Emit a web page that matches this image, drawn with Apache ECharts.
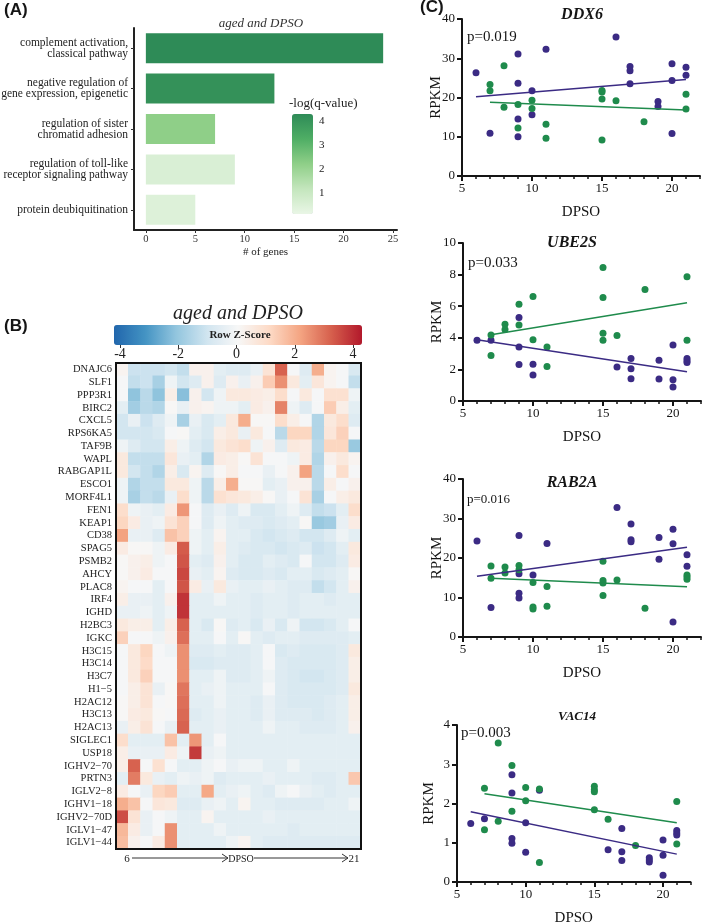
<!DOCTYPE html>
<html>
<head>
<meta charset="utf-8">
<script src="https://cdn.jsdelivr.net/npm/echarts@6/dist/echarts.min.js"></script>
<style>
html, body { margin: 0; padding: 0; background: #fff; }
#chart { width: 702px; height: 922px; }
</style>
</head>
<body>
<div id="chart"></div>
<script>
// ---- panel A: GO terms ----
const goTerms = [
    'complement activation,\nclassical pathway',
    'negative regulation of\ngene expression, epigenetic',
    'regulation of sister\nchromatid adhesion',
    'regulation of toll-like\nreceptor signaling pathway',
    'protein deubiquitination'
];
const goGenes = [24, 13, 7, 9, 5];
const goLogQ = [4.28, 4.1, 2.2, 0.55, 0.45];
const goTicks = [0, 5, 10, 15, 20, 25];
const qTicks = [1, 2, 3, 4];

// ---- panel B: heatmap (row z-scores, samples ordered by DPSO 6 -> 21) ----
const heatGenes = ['DNAJC6','SLF1','PPP3R1','BIRC2','CXCL5','RPS6KA5','TAF9B','WAPL','RABGAP1L','ESCO1',
    'MORF4L1','FEN1','KEAP1','CD38','SPAG5','PSMB2','AHCY','PLAC8','IRF4','IGHD','H2BC3','IGKC',
    'H3C15','H3C14','H3C7','H1\u22125','H2AC12','H3C13','H2AC13','SIGLEC1','USP18','IGHV2\u221270',
    'PRTN3','IGLV2\u22128','IGHV1\u221218','IGHV2\u221270D','IGLV1\u221247','IGLV1\u221244'];
const heatRows = [
    [0.2,-1.1,-1.1,-1.1,-0.95,-1.25,0.3,0.3,-0.5,-0.65,-0.65,-0.35,0.8,3.2,0.0,-0.65,2.0,0.2,0.0,-0.8],
    [0.0,-1.25,-1.1,-1.7,-0.2,-0.95,-0.65,0.3,-0.65,0.3,-0.35,0.3,1.4,2.5,0.6,-0.5,0.7,0.2,0.0,-1.25],
    [0.0,-2.1,-1.4,-2.1,0.4,-2.2,0.3,-0.95,-0.2,0.6,0.6,0.5,0.4,1.0,0.0,0.6,0.0,0.9,0.9,-0.2],
    [-0.5,-1.8,-1.4,-1.55,0.1,-0.35,0.3,0.2,-0.2,-0.2,-0.5,0.5,0.3,2.7,-0.2,-0.65,0.0,1.4,0.4,-0.5],
    [-0.95,-0.35,-1.1,-0.65,-0.2,-1.7,-0.35,-0.8,-0.5,0.6,2.0,0.1,0.1,1.0,0.4,0.0,-1.55,0.6,1.0,-0.65],
    [-0.95,-0.95,-0.95,-0.8,0.0,0.1,-0.5,-0.8,0.4,0.6,-0.35,0.6,0.0,-1.4,1.2,1.2,-1.55,0.7,1.3,0.0],
    [-0.2,-0.65,-0.95,-0.95,0.4,-0.2,-0.65,-0.95,0.6,0.8,1.0,-0.2,0.3,-0.65,0.6,0.5,-1.4,1.2,1.2,-1.95],
    [0.6,-1.25,-1.25,-1.25,0.7,-0.35,-0.5,-1.55,0.5,0.4,0.1,0.8,0.0,0.0,-0.2,0.5,-1.55,0.3,0.6,0.2],
    [0.6,-0.95,-1.25,-1.55,0.4,-0.8,0.2,-0.65,0.1,0.4,0.0,0.0,-0.35,0.0,0.3,2.2,-1.4,0.0,1.0,0.0],
    [-0.2,-1.55,-1.25,-1.25,0.6,0.6,-0.2,-1.4,0.4,2.0,0.1,0.1,-0.5,-0.35,0.3,0.3,-1.4,0.4,0.0,0.3],
    [-0.2,-1.7,-1.25,-1.4,-0.35,1.0,-0.2,-1.4,0.9,0.7,0.6,0.4,0.1,-0.35,0.0,0.8,-1.7,0.0,0.4,0.6],
    [1.0,-0.2,-0.35,-0.5,0.5,2.4,0.0,-0.65,-0.35,-0.65,-0.2,-0.8,-0.8,-0.5,-0.2,-0.65,-1.25,-1.1,-0.5,1.0],
    [1.2,0.5,-0.35,-0.2,0.8,1.3,0.0,-0.65,-0.2,-0.5,-0.65,-0.65,-0.8,-0.65,-0.5,0.1,-1.95,-1.8,-0.35,0.5],
    [2.2,-0.35,-0.35,-0.65,1.6,1.3,-0.2,-0.5,0.2,-0.5,-0.5,-0.8,-0.95,-0.8,-0.65,-0.95,-0.95,-0.65,-0.2,-0.5],
    [0.5,0.1,0.1,-0.2,0.5,3.3,-0.2,-0.5,0.4,-0.5,-0.65,-0.8,-0.8,-0.95,-0.8,-0.65,-1.1,-0.95,-0.5,0.6],
    [0.1,0.3,0.4,-0.2,0.0,3.4,-0.5,-0.65,0.3,-0.5,-0.8,-0.8,-0.5,-0.65,-0.8,0.0,-0.95,-0.95,-0.65,0.5],
    [0.1,0.3,0.5,0.0,0.0,3.6,-0.35,-0.5,0.2,-0.65,-0.8,-0.8,-0.65,-0.8,-0.5,-0.5,-0.8,-0.65,-0.5,0.1],
    [0.2,0.0,0.0,-0.5,0.0,3.4,0.5,-0.35,0.6,-0.35,-0.5,-0.5,-0.35,-0.5,-0.65,-0.65,-1.25,-0.95,-0.5,0.3],
    [0.4,-0.35,-0.35,-0.5,0.3,3.9,-0.5,-0.5,-0.2,-0.5,-0.5,-0.65,-0.5,-0.5,-0.65,-0.5,-0.5,-0.65,-0.5,-0.5],
    [-0.35,-0.35,-0.2,-0.5,-0.2,3.9,-0.5,-0.5,-0.5,-0.5,-0.5,-0.65,-0.5,-0.5,-0.65,-0.5,-0.5,-0.5,-0.5,-0.5],
    [0.6,0.4,0.4,-0.5,0.4,3.2,-0.5,-0.8,0.1,-0.65,-0.5,-0.8,-0.35,-0.8,-0.2,-0.95,-0.95,-0.8,-0.5,0.0],
    [1.3,0.0,0.0,-0.2,0.3,3.0,-0.5,-0.5,0.0,-0.5,0.1,-0.5,-0.65,-0.5,-0.5,-0.65,-0.65,-0.65,-0.65,-0.5],
    [0.0,0.6,1.2,0.0,-0.2,2.5,-0.65,-0.65,-0.5,-0.65,-0.65,-0.5,0.0,-0.8,-0.65,-0.8,-0.8,-0.8,-0.65,0.6],
    [0.0,0.6,1.1,0.0,0.0,2.5,-0.8,-0.8,-0.65,-0.65,-0.65,-0.5,0.0,-0.65,-0.8,-0.8,-0.8,-0.8,-0.65,0.4],
    [0.0,0.6,1.3,0.0,0.0,2.5,-0.5,-0.5,-0.2,-0.65,-0.65,-0.5,-0.2,-0.65,-0.8,-0.95,-0.95,-0.8,-0.65,0.4],
    [0.0,0.4,0.8,-0.35,0.1,2.9,-0.5,-0.35,-0.2,-0.5,-0.5,-0.5,0.0,-0.65,-0.8,-0.8,-0.8,-0.8,-0.65,0.6],
    [0.1,0.4,0.8,0.0,0.1,3.0,-0.5,-0.5,-0.2,-0.5,-0.5,-0.65,-0.35,-0.65,-0.8,-0.8,-0.8,-0.65,-0.5,0.4],
    [0.1,0.5,0.6,0.1,0.0,3.1,-0.65,-0.5,-0.35,-0.5,-0.5,-0.65,-0.35,-0.65,-0.65,-0.65,-0.8,-0.65,-0.5,0.4],
    [-0.35,0.4,0.8,0.0,-0.35,3.2,-0.5,-0.5,-0.35,-0.5,-0.5,-0.5,-0.2,-0.5,-0.5,-0.65,-0.65,-0.65,-0.5,0.3],
    [1.0,-0.5,-0.5,-0.5,1.6,-0.5,2.4,-0.5,0.0,-0.5,-0.5,-0.5,-0.5,-0.5,-0.5,-0.5,-0.5,-0.5,-0.5,-0.5],
    [0.4,-0.35,-0.35,-0.35,0.5,-0.2,3.8,-0.35,-0.2,-0.5,-0.5,-0.5,-0.5,-0.5,-0.5,-0.5,-0.5,-0.5,-0.5,-0.5],
    [0.4,3.2,0.0,0.9,0.0,-0.5,-0.5,-0.2,0.0,-0.35,-0.2,-0.2,-0.5,-0.5,-0.2,-0.5,-0.5,-0.5,-0.5,-0.5],
    [-0.5,2.8,0.6,-0.35,-0.5,-0.2,-0.35,-0.2,-0.65,-0.5,-0.5,-0.5,-0.35,-0.5,-0.5,-0.5,-0.65,-0.65,-0.5,1.5],
    [0.5,0.0,-0.35,1.2,1.4,-0.5,-0.5,2.1,-0.5,-0.35,-0.2,-0.5,-0.65,-0.2,0.0,-0.35,-0.5,-0.65,-0.5,-0.5],
    [2.0,1.6,0.0,0.7,0.6,-0.65,-0.65,-0.35,-0.2,-0.5,0.2,-0.5,-0.5,-0.65,-0.65,-0.65,-0.65,-0.5,-0.5,-0.2],
    [3.5,0.8,-0.35,0.0,-0.2,-0.5,-0.5,0.2,-0.5,-0.5,-0.5,-0.5,-0.35,-0.5,-0.5,-0.5,-0.5,-0.5,-0.5,-0.5],
    [1.8,0.5,-0.35,0.0,2.5,-0.5,-0.5,-0.5,-0.2,-0.5,-0.5,-0.5,-0.5,-0.5,-0.65,-0.5,-0.5,-0.5,-0.5,-0.5],
    [1.7,0.3,0.0,0.5,2.5,-0.5,-0.5,-0.5,-0.5,-0.2,0.2,-0.5,-0.65,-0.65,-0.65,-0.65,-0.65,-0.65,-0.65,-0.65]
];

// ---- panel C: RPKM vs DPSO, two groups (purple / green) with fitted lines ----
const ddx6Purple = [[6,26.3],[7,10.9],[9,31.1],[9,23.6],[9,14.5],[9,10.0],[10,21.7],[10,15.6],[11,32.3],
    [16,35.4],[17,27.9],[17,26.8],[17,23.5],[19,19.0],[19,17.7],[20,28.6],[20,24.3],[20,10.8],[21,27.7],[21,25.7]];
const ddx6Green = [[7,23.3],[7,21.7],[8,28.1],[8,17.5],[9,18.2],[9,12.2],[10,19.3],[10,17.2],[11,13.2],[11,9.6],
    [15,21.8],[15,21.4],[15,19.6],[15,9.2],[16,19.2],[18,13.8],[21,20.8],[21,17.1]];
const ddx6PurpleFit = [[6,20.2],[21,24.6]];
const ddx6GreenFit = [[7,18.8],[21,16.8]];

const ube2sPurple = [[6,3.84],[7,3.84],[9,5.29],[9,3.42],[9,2.31],[10,2.33],[10,1.64],[16,2.15],[17,2.69],
    [17,2.04],[17,1.41],[19,2.58],[19,1.39],[20,3.55],[20,1.34],[20,0.88],[21,2.69],[21,2.54],[21,2.44]];
const ube2sGreen = [[7,4.18],[7,2.88],[8,4.85],[8,4.52],[9,6.13],[9,4.81],[10,6.62],[10,3.87],[11,3.42],[11,2.18],
    [15,8.45],[15,6.55],[15,4.29],[15,3.84],[16,4.14],[18,7.06],[21,7.86],[21,3.84]];
const ube2sPurpleFit = [[6,3.87],[21,1.85]];
const ube2sGreenFit = [[7,4.2],[21,6.22]];

const rab2aPurple = [[6,24.3],[7,7.5],[9,25.7],[9,16.0],[9,11.1],[9,9.9],[10,15.7],[11,23.7],[16,32.8],[17,28.6],
    [17,24.6],[17,24.1],[19,25.2],[19,19.7],[20,27.3],[20,23.6],[20,3.8],[21,20.8],[21,17.9]];
const rab2aGreen = [[7,18.0],[7,14.9],[8,17.7],[8,16.2],[9,18.1],[9,17.0],[10,13.8],[10,7.6],[10,7.1],[11,12.8],
    [11,7.8],[15,19.2],[15,14.3],[15,13.7],[15,10.5],[16,14.4],[18,7.3],[21,15.7],[21,15.2],[21,14.6]];
const rab2aPurpleFit = [[6,15.4],[21,22.7]];
const rab2aGreenFit = [[7,14.9],[21,12.7]];

const vac14Purple = [[6,1.49],[7,1.61],[9,2.73],[9,2.27],[9,1.11],[9,0.99],[10,1.51],[10,0.76],[11,2.34],[16,0.82],
    [17,1.36],[17,0.77],[17,0.55],[19,0.62],[19,0.56],[19,0.51],[20,1.07],[20,0.68],[20,0.17],[21,1.31],[21,1.25],[21,1.20]];
const vac14Green = [[7,2.39],[7,1.33],[8,3.54],[8,1.55],[9,2.97],[9,1.80],[10,2.41],[10,2.07],[11,2.37],[11,0.50],
    [15,2.44],[15,2.35],[15,2.30],[15,1.84],[16,1.60],[18,0.93],[21,2.05],[21,0.97]];
const vac14PurpleFit = [[6,1.79],[21,0.71]];
const vac14GreenFit = [[7,2.25],[21,1.51]];

const dpsoMajor = [5, 10, 15, 20];
const dpsoMinor = [6, 7, 8, 9, 11, 12, 13, 14, 16, 17, 18, 19, 21, 22];

const SERIF = '"Liberation Serif", "Times New Roman", serif';
const SANS = '"Liberation Sans", Arial, sans-serif';
const PURPLE = '#3b2b84';
const GREEN = '#1f8b4c';
const INK = '#151515';

let chart = echarts.init(document.getElementById('chart'));

let grids = [
    {left: 134, top: 28, width: 263, height: 202},   // 0 bars
    {left: 292, top: 114, width: 21, height: 100},   // 1 q colour bar axis
    {left: 120, top: 344, width: 233, height: 1},    // 2 z colour bar axis
    {left: 116, top: 363, width: 245, height: 486}   // 3 heatmap
];
let xAxes = [
    {gridIndex: 0, type: 'value', min: -1.2, max: 25.4,
        axisLine: {show: true, onZero: false, lineStyle: {color: '#222', width: 2}},
        axisTick: {show: true, customValues: goTicks, length: 3, lineStyle: {color: '#333'}},
        axisLabel: {customValues: goTicks, fontFamily: SERIF, fontSize: 10.5, color: '#333', margin: 4},
        splitLine: {show: false},
        name: '# of genes', nameLocation: 'middle', nameGap: 17, nameMoveOverlap: false,
        nameTextStyle: {fontFamily: SERIF, fontSize: 11, color: '#222'}},
    {gridIndex: 1, type: 'value', show: false},
    {gridIndex: 2, type: 'value', min: -4, max: 4, interval: 2,
        axisLine: {show: false},
        axisTick: {show: true, length: 3, lineStyle: {color: '#333'}},
        axisLabel: {fontFamily: SERIF, fontSize: 14, color: '#222', margin: 2},
        splitLine: {show: false}},
    {gridIndex: 3, type: 'category', data: heatRows[0].map((v, i) => 'S' + (i + 1)), show: false}
];
let yAxes = [
    {gridIndex: 0, type: 'category', data: goTerms, inverse: true,
        axisLine: {show: true, onZero: false, lineStyle: {color: '#222', width: 2}},
        axisTick: {show: true, alignWithLabel: true, length: 3, lineStyle: {color: '#333'}},
        axisLabel: {fontFamily: SERIF, fontSize: 11.5, lineHeight: 11, color: '#222', margin: 6}},
    {gridIndex: 1, type: 'value', min: 0.11, max: 4.28, position: 'right', z: 10,
        axisLine: {show: false},
        axisTick: {show: true, inside: true, length: 4, customValues: qTicks, lineStyle: {color: '#fff', width: 1.5}},
        axisLabel: {customValues: qTicks, fontFamily: SERIF, fontSize: 11, color: '#222', margin: 6},
        splitLine: {show: false}},
    {gridIndex: 2, type: 'value', show: false},
    {gridIndex: 3, type: 'category', data: heatGenes, inverse: true,
        axisLine: {show: false}, axisTick: {show: false},
        axisLabel: {interval: 0, fontFamily: SERIF, fontSize: 10.5, color: '#222', margin: 4}}
];

let series = [
    {type: 'bar', xAxisIndex: 0, yAxisIndex: 0, barWidth: 30,
        data: goGenes.map((g, i) => [g, i, goLogQ[i]])},
    {type: 'heatmap', xAxisIndex: 3, yAxisIndex: 3,
        data: [].concat(...heatRows.map((row, r) => row.map((v, c) => [c, r, v]))),
        emphasis: {disabled: true}}
];

let graphic = [
    {type: 'text', x: 4, y: 10, style: {text: '(A)', font: 'bold 17px ' + SANS, fill: INK, textVerticalAlign: 'middle', verticalAlign: 'middle'}},
    {type: 'text', x: 261, y: 24, style: {text: 'aged and DPSO', font: 'italic 13px ' + SERIF, fill: '#333', textAlign: 'center', align: 'center', textVerticalAlign: 'middle', verticalAlign: 'middle'}},
    {type: 'text', x: 289, y: 104, style: {text: '-log(q-value)', font: '13px ' + SERIF, fill: '#222', textVerticalAlign: 'middle', verticalAlign: 'middle'}},
    {type: 'text', x: 4, y: 326, style: {text: '(B)', font: 'bold 17px ' + SANS, fill: INK, textVerticalAlign: 'middle', verticalAlign: 'middle'}},
    {type: 'text', x: 238, y: 314, style: {text: 'aged and DPSO', font: 'italic 20px ' + SERIF, fill: '#222', textAlign: 'center', align: 'center', textVerticalAlign: 'middle', verticalAlign: 'middle'}},
    {type: 'text', x: 240, y: 335, z: 20, style: {text: 'Row Z-Score', font: 'bold 11px ' + SERIF, fill: '#222', textAlign: 'center', align: 'center', textVerticalAlign: 'middle', verticalAlign: 'middle'}},
    {type: 'rect', z: 20, shape: {x: 116, y: 363, width: 245, height: 486}, style: {fill: 'none', stroke: '#111', lineWidth: 2}},
    {type: 'text', x: 127, y: 859, style: {text: '6', font: '11px ' + SERIF, fill: '#222', textAlign: 'center', align: 'center', textVerticalAlign: 'middle', verticalAlign: 'middle'}},
    {type: 'line', shape: {x1: 132, y1: 858, x2: 228, y2: 858}, style: {stroke: '#333', lineWidth: 1}},
    {type: 'polyline', shape: {points: [[222, 854], [228, 858], [222, 862]]}, style: {stroke: '#333', fill: 'none', lineWidth: 1}},
    {type: 'text', x: 241, y: 859, style: {text: 'DPSO', font: '10px ' + SERIF, fill: '#222', textAlign: 'center', align: 'center', textVerticalAlign: 'middle', verticalAlign: 'middle'}},
    {type: 'line', shape: {x1: 254, y1: 858, x2: 348, y2: 858}, style: {stroke: '#333', lineWidth: 1}},
    {type: 'polyline', shape: {points: [[342, 854], [348, 858], [342, 862]]}, style: {stroke: '#333', fill: 'none', lineWidth: 1}},
    {type: 'text', x: 354, y: 859, style: {text: '21', font: '11px ' + SERIF, fill: '#222', textAlign: 'center', align: 'center', textVerticalAlign: 'middle', verticalAlign: 'middle'}},
    {type: 'text', x: 420, y: 7, style: {text: '(C)', font: 'bold 17px ' + SANS, fill: INK, textVerticalAlign: 'middle', verticalAlign: 'middle'}}
];

// scatter panels
let panels = [
    {gene: 'DDX6', p: 'p=0.019', ymax: 40, yint: 10, purple: ddx6Purple, green: ddx6Green,
        purpleFit: ddx6PurpleFit, greenFit: ddx6GreenFit,
        grid: {left: 462, top: 19, width: 238, height: 157}, rpkmGap: 18,
        titleXY: [582, 15], titleSize: 16, pXY: [467, 37], pSize: 15},
    {gene: 'UBE2S', p: 'p=0.033', ymax: 10, yint: 2, purple: ube2sPurple, green: ube2sGreen,
        purpleFit: ube2sPurpleFit, greenFit: ube2sGreenFit,
        grid: {left: 463, top: 243, width: 238, height: 158}, rpkmGap: 18,
        titleXY: [572, 243], titleSize: 16, pXY: [468, 263], pSize: 15},
    {gene: 'RAB2A', p: 'p=0.016', ymax: 40, yint: 10, purple: rab2aPurple, green: rab2aGreen,
        purpleFit: rab2aPurpleFit, greenFit: rab2aGreenFit,
        grid: {left: 463, top: 479, width: 238, height: 158}, rpkmGap: 18,
        titleXY: [572, 483], titleSize: 16, pXY: [467, 500], pSize: 13},
    {gene: 'VAC14', p: 'p=0.003', ymax: 4, yint: 1, purple: vac14Purple, green: vac14Green,
        purpleFit: vac14PurpleFit, greenFit: vac14GreenFit,
        grid: {left: 457, top: 725, width: 233.5, height: 157}, rpkmGap: 20,
        titleXY: [577, 717], titleSize: 13, pXY: [461, 733], pSize: 15}
];

panels.forEach(function (pn) {
    let g = grids.length;
    grids.push(pn.grid);
    let xi = xAxes.length;
    xAxes.push({gridIndex: g, type: 'value', min: 5, max: 22, position: 'bottom',
        axisLine: {show: true, onZero: false, lineStyle: {color: INK, width: 2}},
        axisTick: {show: true, customValues: dpsoMajor, length: 5, lineStyle: {color: INK, width: 2}},
        axisLabel: {customValues: dpsoMajor, fontFamily: SERIF, fontSize: 13, color: INK, margin: 6},
        splitLine: {show: false},
        name: 'DPSO', nameLocation: 'middle', nameGap: 29, nameMoveOverlap: false,
        nameTextStyle: {fontFamily: SERIF, fontSize: 15, color: INK}});
    xAxes.push({gridIndex: g, type: 'value', min: 5, max: 22, position: 'bottom',
        axisLine: {show: false, onZero: false},
        axisTick: {show: true, customValues: dpsoMinor, length: 3, lineStyle: {color: INK, width: 1.5}},
        axisLabel: {show: false}, splitLine: {show: false}});
    let yi = yAxes.length;
    yAxes.push({gridIndex: g, type: 'value', min: 0, max: pn.ymax, interval: pn.yint,
        axisLine: {show: true, onZero: false, lineStyle: {color: INK, width: 2}},
        axisTick: {show: true, length: 5, lineStyle: {color: INK, width: 2}},
        axisLabel: {fontFamily: SERIF, fontSize: 13, color: INK, margin: 7},
        splitLine: {show: false},
        name: 'RPKM', nameLocation: 'middle', nameGap: pn.rpkmGap, nameMoveOverlap: false,
        nameTextStyle: {fontFamily: SERIF, fontSize: 15, color: INK}});

    [[pn.purple, pn.purpleFit, PURPLE], [pn.green, pn.greenFit, GREEN]].forEach(function (grp) {
        series.push({type: 'scatter', xAxisIndex: xi, yAxisIndex: yi, data: grp[0],
            symbolSize: 7, itemStyle: {color: grp[2], opacity: 1}, z: 3});
        series.push({type: 'line', xAxisIndex: xi, yAxisIndex: yi, data: grp[1],
            symbol: 'none', lineStyle: {color: grp[2], width: 1.5}, z: 4});
    });

    graphic.push({type: 'text', x: pn.titleXY[0], y: pn.titleXY[1],
        style: {text: pn.gene, font: 'italic bold ' + pn.titleSize + 'px ' + SERIF, fill: INK,
            textAlign: 'center', align: 'center', textVerticalAlign: 'middle', verticalAlign: 'middle'}});
    graphic.push({type: 'text', x: pn.pXY[0], y: pn.pXY[1],
        style: {text: pn.p, font: pn.pSize + 'px ' + SERIF, fill: INK,
            textVerticalAlign: 'middle', verticalAlign: 'middle'}});
});

grids.forEach(g => { g.containLabel = false; g.outerBoundsMode = 'none'; });

let option = {
    animation: false,
    backgroundColor: '#fff',
    grid: grids,
    xAxis: xAxes,
    yAxis: yAxes,
    visualMap: [
        {type: 'continuous', seriesIndex: 0, dimension: 2, min: 0.11, max: 4.28,
            orient: 'vertical', left: 292, top: 114, itemWidth: 21, itemHeight: 100, z: 2,
            calculable: false, text: null, showLabel: false, padding: 0, hoverLink: false,
            inRange: {color: ['#e9f6e6', '#c4e6bd', '#8fcf88', '#4fae65', '#2e8b57']}},
        {type: 'continuous', seriesIndex: 1, dimension: 2, min: -4.2, max: 4.3,
            orient: 'horizontal', left: 114, top: 325, itemWidth: 20, itemHeight: 248,
            calculable: false, text: null, showLabel: false, padding: 0, hoverLink: false,
            inRange: {color: ['#2166ac', '#4393c3', '#92c5de', '#d1e5f0', '#f7f7f7', '#fddbc7', '#f4a582', '#d6604d', '#b2182b']}}
    ],
    graphic: graphic,
    series: series
};

chart.setOption(option);
</script>
</body>
</html>
